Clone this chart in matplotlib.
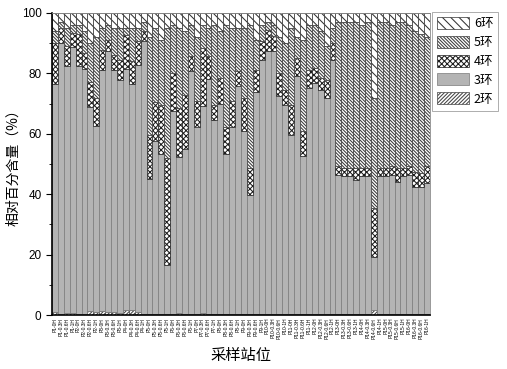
import matplotlib
matplotlib.use("Agg")
import matplotlib.pyplot as plt
from matplotlib.patches import Patch
from matplotlib.ticker import MultipleLocator

plt.rcParams['font.family'] = ['Liberation Sans', 'Noto Sans CJK SC', 'DejaVu Sans']
plt.rcParams['hatch.linewidth'] = 0.75

stations = [f"P{i}" for i in range(1, 17)]
depths = ["0H", "0.3H", "0.6H", "1H"]
labels = [f"{s}-{d}" for s in stations for d in depths]

ring2 = [1.0, 0.3, 0.6, 0.6, 0.5, 0.3, 1.2, 1.0, 1.2, 1.0, 1.0, 0.6, 1.5, 1.5, 1.0, 0.5,
         0.2, 0.2, 0.2, 0.2, 0.2, 0.8, 0.2, 0.2, 0.2, 0.8, 0.2, 0.2, 0.2, 0.2, 0.2, 0.2,
         0.2, 0.2, 0.2, 0.2, 0.2, 0.2, 0.2, 0.2, 0.2, 0.2, 0.2, 0.2, 0.2, 0.2, 0.2, 0.2,
         0.2, 0.2, 0.2, 0.2, 0.2, 0.2, 1.5, 0.2, 0.2, 0.2, 0.2, 0.2, 0.2, 0.2, 0.2, 0.2]
ring3 = [75.5, 89.8, 81.9, 88.0, 81.8, 81.1, 67.8, 61.7, 79.8, 86.5, 80.2, 77.3, 79.9, 75.0, 81.9, 90.3,
         44.9, 57.5, 53.2, 16.4, 67.2, 51.4, 54.7, 80.7, 62.2, 68.3, 77.9, 64.4, 69.6, 53.1, 62.2, 75.7,
         60.6, 39.6, 73.8, 84.3, 87.3, 87.1, 72.2, 69.4, 59.5, 78.8, 52.3, 74.9, 76.6, 74.4, 71.8, 84.3,
         46.2, 45.7, 45.7, 44.6, 45.7, 45.7, 17.8, 45.7, 45.7, 46.2, 44.0, 45.7, 46.2, 42.3, 42.3, 43.4]
ring4 = [13.6, 4.9, 6.5, 4.8, 10.7, 5.3, 8.3, 9.1, 6.8, 3.7, 5.0, 6.6, 11.4, 7.5, 7.7, 3.1,
         14.6, 12.7, 16.2, 35.3, 12.7, 16.3, 18.0, 4.7, 8.3, 19.3, 7.5, 5.0, 8.7, 9.1, 8.3, 4.8,
         11.0, 8.8, 7.2, 6.1, 7.0, 5.2, 7.7, 5.0, 9.9, 6.0, 8.3, 6.1, 5.0, 3.9, 5.9, 5.5,
         2.8, 2.9, 2.9, 3.8, 2.7, 2.9, 16.1, 2.9, 2.9, 2.8, 4.6, 2.9, 2.8, 5.0, 4.5, 5.6]
ring5 = [3.9, 2.0, 6.0, 2.6, 3.0, 7.3, 12.7, 20.2, 7.2, 4.8, 8.8, 10.5, 2.2, 11.0, 4.4, 3.1,
         32.3, 24.6, 21.4, 43.1, 15.9, 26.5, 21.1, 10.4, 21.3, 7.6, 9.4, 26.4, 15.5, 33.6, 24.3, 14.3,
         23.2, 47.4, 9.8, 5.4, 2.5, 3.5, 12.1, 15.4, 25.4, 7.0, 30.2, 14.8, 14.2, 15.5, 11.1, 5.0,
         47.8, 48.2, 48.2, 48.4, 47.4, 48.2, 36.6, 48.2, 48.2, 46.8, 48.2, 48.2, 46.8, 46.5, 46.0, 42.8]
ring6 = [6, 3, 5, 4, 4, 6, 10, 8, 5, 4, 5, 5, 5, 5, 5, 3,
         8, 5, 9, 5, 4, 5, 6, 4, 8, 4, 5, 4, 6, 4, 5, 5,
         5, 4, 9, 4, 3, 4, 8, 10, 5, 8, 9, 4, 4, 6, 11, 5,
         3, 3, 3, 3, 4, 3, 28, 3, 3, 4, 3, 3, 4, 6, 7, 8]

series = [
    ("2环", ring2, "white", "/" * 9, "#444444"),
    ("3环", ring3, "#b4b4b4", "", "#7a7a7a"),
    ("4环", ring4, "white", "x" * 6, "#1e1e1e"),
    ("5环", ring5, "white", "\\" * 10, "#3a3a3a"),
    ("6环", ring6, "white", "\\" * 4, "#333333"),
]

fig = plt.figure(figsize=(5.07, 3.69), dpi=100)
ax = fig.add_axes([0.1026, 0.1463, 0.7455, 0.8185])

x = list(range(len(labels)))
bottom = [0.0] * len(labels)
handles = []
for name, vals, fc, hatch, ec in series:
    ax.bar(x, vals, width=1.0, bottom=bottom, color=fc, edgecolor=ec,
           hatch=hatch, linewidth=0.5)
    bottom = [b + v for b, v in zip(bottom, vals)]
    handles.append(Patch(facecolor=fc, edgecolor=ec, hatch=hatch, linewidth=0.5, label=name))

ax.set_xlim(-0.5, len(labels) - 0.5)
ax.set_ylim(0, 100)
ax.yaxis.set_major_locator(MultipleLocator(20))
ax.yaxis.set_minor_locator(MultipleLocator(10))
ax.set_xticks(x)
ax.set_xticklabels(labels, rotation=90, fontsize=3.5)
ax.tick_params(axis='x', length=0, pad=2)
ax.tick_params(axis='y', which='major', length=4, width=0.8, labelsize=8.5, direction='out')
ax.tick_params(axis='y', which='minor', length=2, width=0.6, direction='out')
for side in ['left', 'bottom']:
    ax.spines[side].set_linewidth(1.2)
for side in ['top', 'right']:
    ax.spines[side].set_linewidth(0.6)
    ax.spines[side].set_color('#888888')

ax.set_ylabel("相对百分含量（%）", fontsize=10, family=['Noto Sans CJK SC'], labelpad=1)
ax.set_xlabel("采样站位", fontsize=11, family=['Noto Sans CJK SC'], labelpad=6)

leg = fig.legend(handles=handles[::-1], loc='upper left', bbox_to_anchor=(0.852, 0.968),
                 prop={'family': ['Noto Sans CJK SC'], 'size': 9},
                 handlelength=2.6, handleheight=1.1, labelspacing=0.45,
                 handletextpad=0.35, borderpad=0.4, fancybox=False, edgecolor='#888888',
                 borderaxespad=0)
leg.get_frame().set_linewidth(0.6)

fig.savefig("out.png", dpi=100)
